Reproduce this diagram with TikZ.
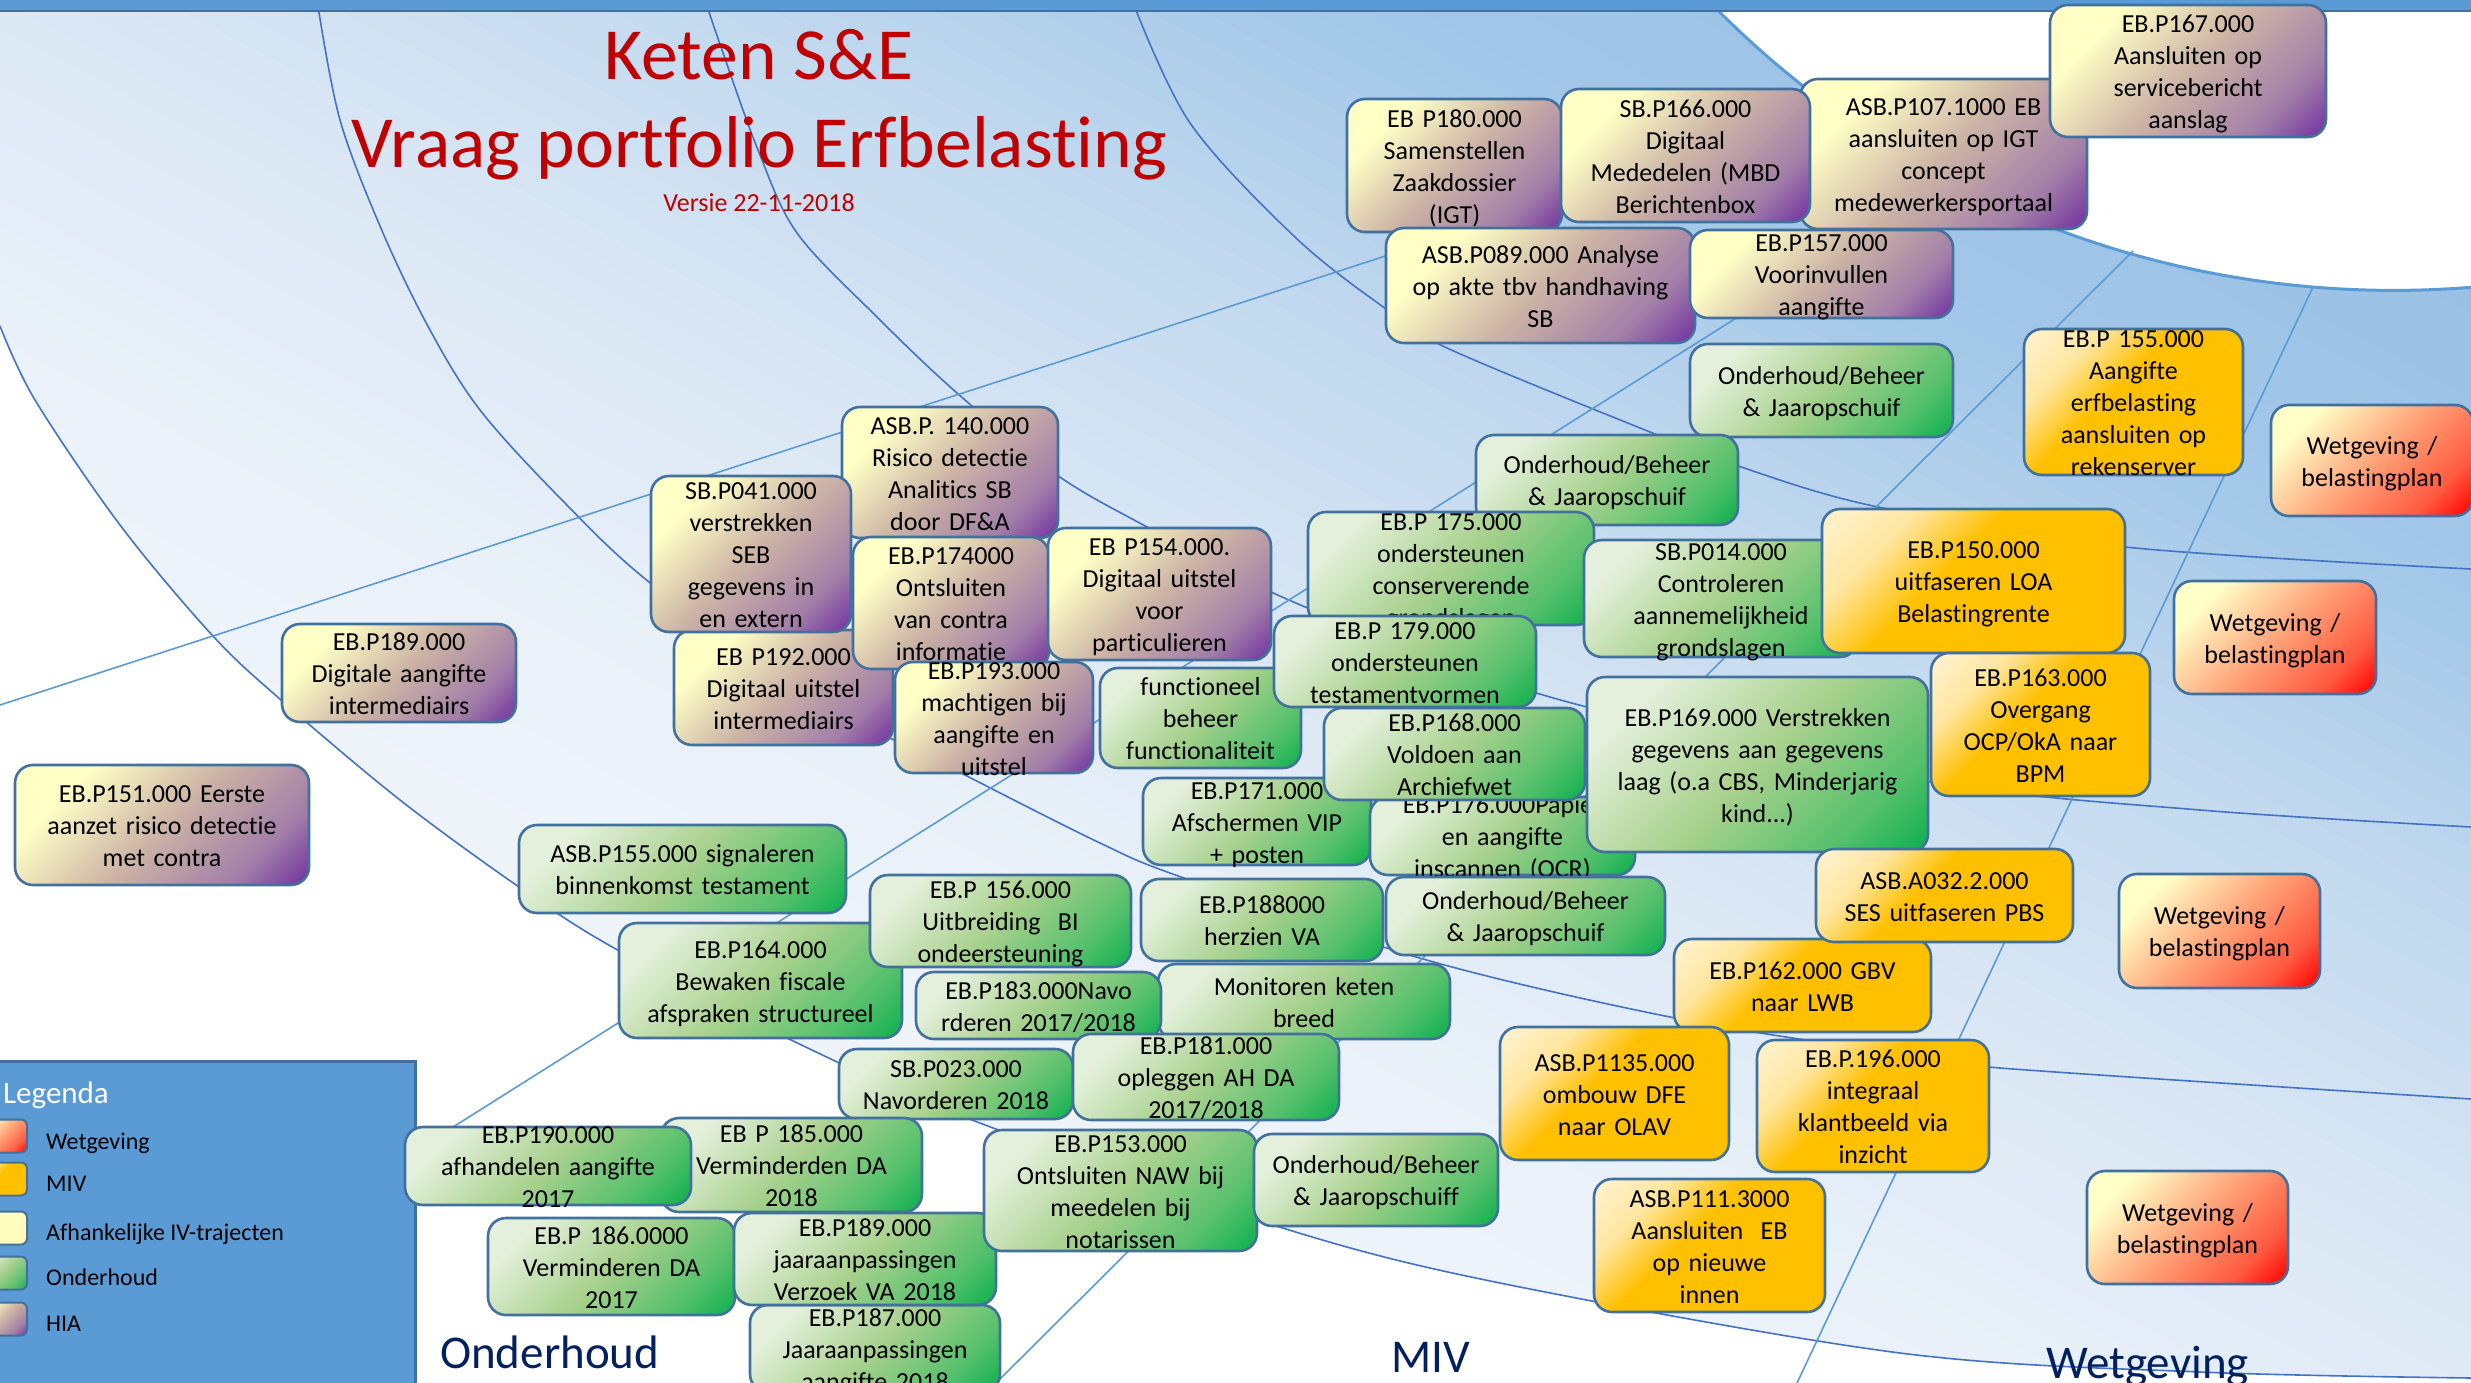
\documentclass[tikz,border=0pt]{standalone}
\usepackage{fontspec}
\setmainfont{Carlito}[Ligatures=NoCommon]
\definecolor{bordc}{HTML}{41719C}
\definecolor{arcc}{HTML}{4472C4}
\definecolor{radc}{HTML}{5B9BD5}
\definecolor{barc}{HTML}{5B9BD5}
\definecolor{titlered}{HTML}{C00000}
\definecolor{navy}{HTML}{002060}
\definecolor{bgA}{HTML}{8DB9E2}
\definecolor{bgB}{HTML}{A4C8E8}
\definecolor{bgC}{HTML}{C0D8EE}
\definecolor{bgD}{HTML}{DCE8F5}
\definecolor{bgE}{HTML}{EAF1F9}
\definecolor{bgF}{HTML}{F4F8FC}
\definecolor{hiaA}{HTML}{FFFFC6}
\definecolor{hiaB}{HTML}{CDB5A6}
\definecolor{hiaC}{HTML}{A27EA8}
\definecolor{hiaD}{HTML}{7232A0}
\definecolor{ondA}{HTML}{E4F0DC}
\definecolor{ondB}{HTML}{A8D18D}
\definecolor{ondC}{HTML}{55C06C}
\definecolor{ondD}{HTML}{0DB04E}
\definecolor{mivA}{HTML}{FFF0C8}
\definecolor{mivB}{HTML}{FFE6A0}
\definecolor{mivC}{HTML}{FFC000}
\definecolor{wetA}{HTML}{FFFFC8}
\definecolor{wetB}{HTML}{FFA57A}
\definecolor{wetC}{HTML}{FF5A40}
\definecolor{wetD}{HTML}{FF0000}
\definecolor{afhA}{HTML}{FFFFC4}
\definecolor{afhB}{HTML}{FFF6B0}
\pgfdeclarehorizontalshading{hiash}{100bp}{color(0bp)=(hiaA); color(28bp)=(hiaA); color(50bp)=(hiaB); color(72bp)=(hiaC); color(85bp)=(hiaD); color(100bp)=(hiaD)}
\pgfdeclarehorizontalshading{ondsh}{100bp}{color(0bp)=(ondA); color(25bp)=(ondA); color(50bp)=(ondB); color(72bp)=(ondC); color(85bp)=(ondD); color(100bp)=(ondD)}
\pgfdeclarehorizontalshading{mivsh}{100bp}{color(0bp)=(mivA); color(18bp)=(mivA); color(30bp)=(mivB); color(44bp)=(mivC); color(100bp)=(mivC)}
\pgfdeclarehorizontalshading{wetsh}{100bp}{color(0bp)=(wetA); color(26bp)=(wetA); color(50bp)=(wetB); color(72bp)=(wetC); color(85bp)=(wetD); color(100bp)=(wetD)}
\pgfdeclarehorizontalshading{afhsh}{100bp}{color(0bp)=(afhA); color(40bp)=(afhA); color(100bp)=(afhB)}
\newcommand{\bxfont}{\fontsize{26}{32}\selectfont}
\newcommand{\bx}[7]{%
  \node[#1, minimum width={#5-#3}, minimum height={#6-#4}] (#2) at ({(#3+#5)/2},{(#4+#6)/2}) {};
  \node[boxtext] (#2t) at ([yshift=-3.5pt]#2.center) {#7};
}
\tikzset{
  box/.style={rounded corners=18pt, draw=bordc, line width=2.6pt, inner sep=0pt, outer sep=0pt, shade, shading angle=-45},
  hia/.style={box, shading=hiash, shading angle=-45},
  ond/.style={box, shading=ondsh, shading angle=-45},
  miv/.style={box, shading=mivsh, shading angle=-45},
  wet/.style={box, shading=wetsh, shading angle=-45},
  afh/.style={box, shading=afhsh, shading angle=-45},
  boxtext/.style={text width=600pt, align=center, inner sep=0pt, font=\bxfont, text=black,
    execute at begin node=\strut, execute at end node=\strut},
  arcline/.style={draw=arcc, line width=1.6pt},
  radline/.style={draw=radc, line width=1.6pt},
  swatch/.style={rounded corners=6pt, line width=2pt, minimum width=50, minimum height=33},
  legtext/.style={anchor=base west, inner sep=0pt, font=\fontsize{24}{28}\selectfont, text=black},
  seclabel/.style={anchor=base west, inner sep=0pt, font=\fontsize{47}{56}\selectfont, text=navy},
  titlefont/.style={anchor=base, inner sep=0pt, font=\fontsize{73.5}{87}\selectfont, text=titlered},
}
\begin{document}
\begin{tikzpicture}[x=1pt,y=-1pt]
\useasboundingbox (0,0) rectangle (2471,1383);
\fill[white] (0,0) rectangle (2471,1383);
% ---------- gradient sector region ----------
\begin{scope}
\clip plot[smooth,tension=0.55] coordinates {(0,326) (35,400) (120,525) (212,635) (281,700) (400,800) (519,887) (614,948) (789,1039) (972,1120) (1276,1226) (1500,1283) (1900,1353) (2200,1372) (2471,1378)}
  -- (2490,1378) -- (2490,-20) -- (-20,-20) -- (-20,326) -- cycle;
\foreach \pa/\pb/\ca/\cb in {-1250/-600/bgA/bgB, -600/-350/bgB/bgC, -350/0/bgC/bgD, 0/300/bgD/bgE, 300/800/bgE/bgF}{
  \pgfmathtruncatemacro{\nn}{(\pb-\pa)/25}
  \foreach \i in {1,...,\nn}{
    \pgfmathsetmacro{\pp}{\pa+(\i-1)*25}
    \pgfmathsetmacro{\pq}{\pp+27}
    \pgfmathtruncatemacro{\fr}{100*(\i-0.5)/\nn}
    \fill[\cb!\fr!\ca] ({-0.466*\pp-265.5},{0.885*\pp-139.8}) -- ({-0.466*\pp+2743.5},{0.885*\pp+1444.6})
      -- ({-0.466*\pq+2743.5},{0.885*\pq+1444.6}) -- ({-0.466*\pq-265.5},{0.885*\pq-139.8}) -- cycle;
  }
}
\end{scope}
% outer boundary arc
\draw[arcline] plot[smooth,tension=0.55] coordinates {(0,326) (35,400) (120,525) (212,635) (281,700) (400,800) (519,887) (614,948) (789,1039) (972,1120) (1276,1226) (1500,1283) (1900,1353) (2200,1372) (2471,1378)};
% inner white circle
\fill[white] (2393.5,-664.6) circle (955pt);
\draw[draw=radc, line width=3pt] (2393.5,-664.6) circle (955pt);
% arcs
\draw[arcline] plot[smooth,tension=0.55] coordinates {(317,0) (340,120) (383,233) (430,330) (480,410) (560,498) (649,582) (800,690) (961,773) (1100,843) (1181,877) (1423,959) (1675,1018) (1900,1054) (2000,1068) (2471,1099)};
\draw[arcline] plot[smooth,tension=0.55] coordinates {(705,0) (722,50) (758,150) (797,233) (877,317) (957,393) (1057,475) (1147,527) (1271,592) (1420,652) (1587,707) (1931,782) (2200,810) (2471,827)};
\draw[arcline] plot[smooth,tension=0.55] coordinates {(1132,0) (1190,123) (1296,238) (1386,309) (1447,348) (1650,432) (1741,467) (1878,507) (2125,547) (2471,569)};
% radial lines
\draw[radline] (0,705) -- (1836,110);
\draw[radline] (47,1383) -- (1952,182);
\draw[radline] (996,1383) -- (2133,251);
\draw[radline] (1797,1383) -- (2313,287);
% top bar
\fill[barc] (0,-5) rectangle (2471,11);
\draw[bordc, line width=2pt] (0,11) -- (2471,11);
% titles
\node[titlefont] (title1) at (759,80) {Keten S\&E};
\node[titlefont] (title2) at (759,168) {Vraag portfolio Erfbelasting};
\node[anchor=base, inner sep=0pt, font=\fontsize{26}{32}\selectfont, text=titlered] (versie) at (759,212) {Versie 22-11-2018};
% ---------- legend ----------
\path[fill=barc, draw=bordc, line width=3pt] (-10,1061) rectangle (415,1400);
\node[anchor=base west, inner sep=0pt, font=\fontsize{31}{36}\selectfont, text=white] (legtitle) at (3,1103) {Legenda};
\node[wet, swatch] (sw1) at (2,1136) {};
\node[miv, swatch] (sw2) at (2,1179) {};
\node[afh, swatch] (sw3) at (2,1228) {};
\node[ond, swatch] (sw4) at (2,1273) {};
\node[hia, swatch] (sw5) at (2,1319) {};
\node[legtext] (lt1) at (46,1149) {Wetgeving};
\node[legtext] (lt2) at (46,1191) {MIV};
\node[legtext] (lt3) at (46,1240) {Afhankelijke IV-trajecten};
\node[legtext] (lt4) at (46,1285) {Onderhoud};
\node[legtext] (lt5) at (46,1331) {HIA};
% ---------- boxes ----------
\bx{hia}{b4}{1347}{99}{1562}{232}{EB P180.000\\Samenstellen\\Zaakdossier\\(IGT)}
\bx{hia}{b2}{1800}{79}{2087}{229}{ASB.P107.1000 EB\\aansluiten op IGT\\concept\\medewerkersportaal}
\bx{hia}{b3}{1561}{89}{1810}{222}{SB.P166.000\\Digitaal\\Mededelen (MBD\\Berichtenbox}
\bx{hia}{b1}{2050}{5}{2326}{137}{EB.P167.000\\Aansluiten op\\servicebericht\\aanslag}
\bx{hia}{b5}{1386}{228}{1695}{343}{ASB.P089.000 Analyse\\op akte tbv handhaving\\SB}
\bx{hia}{b6}{1690}{230}{1953}{318}{EB.P157.000\\Voorinvullen\\aangifte}
\bx{ond}{b15}{1690}{344}{1953}{437}{Onderhoud/Beheer\\\& Jaaropschuif}
\bx{miv}{b41}{2024}{329}{2243}{475}{EB.P 155.000\\Aangifte\\erfbelasting\\aansluiten op\\rekenserver}
\bx{wet}{b49}{2271}{405}{2473}{516}{Wetgeving /\\belastingplan}
\bx{hia}{b7}{842}{407}{1058}{538}{ASB.P. 140.000\\Risico detectie\\Analitics SB\\door DF\&A}
\bx{hia}{b12}{674}{630}{893}{745}{EB P192.000\\Digitaal uitstel\\intermediairs}
\bx{hia}{b8}{651}{476}{851}{632}{SB.P041.000\\verstrekken\\SEB\\gegevens in\\en extern}
\bx{hia}{b9}{853}{537}{1049}{669}{EB.P174000\\Ontsluiten\\van contra\\informatie}
\bx{hia}{b13}{895}{662}{1093}{773}{EB.P193.000\\machtigen bij\\aangifte en\\uitstel}
\bx{hia}{b10}{1048}{528}{1271}{660}{EB P154.000.\\Digitaal uitstel\\voor\\particulieren}
\bx{hia}{b11}{282}{624}{516}{722}{EB.P189.000\\Digitale aangifte\\intermediairs}
\bx{hia}{b14}{15}{765}{309}{885}{EB.P151.000 Eerste\\aanzet risico detectie\\met contra}
\bx{ond}{b16}{1476}{435}{1738}{525}{Onderhoud/Beheer\\\& Jaaropschuif}
\bx{ond}{b17}{1308}{512}{1594}{625}{EB.P 175.000\\ondersteunen\\conserverende\\grondslagen}
\bx{ond}{b18}{1584}{540}{1858}{657}{SB.P014.000\\Controleren\\aannemelijkheid\\grondslagen}
\bx{miv}{b42}{1822}{509}{2125}{653}{EB.P150.000\\uitfaseren LOA\\Belastingrente}
\bx{ond}{b20}{1100}{668}{1301}{768}{functioneel\\beheer\\functionaliteit}
\bx{ond}{b19}{1274}{616}{1536}{707}{EB.P 179.000\\ondersteunen\\testamentvormen}
\bx{ond}{b23}{1143}{778}{1371}{865}{EB.P171.000\\Afschermen VIP\\+ posten}
\bx{ond}{b24}{1370}{797}{1635}{875}{EB.P176.000Papier\\en aangifte\\inscannen (OCR)}
\bx{ond}{b21}{1324}{708}{1585}{800}{EB.P168.000\\Voldoen aan\\Archiefwet}
\bx{ond}{b22}{1587}{677}{1928}{852}{EB.P169.000 Verstrekken\\gegevens aan gegevens\\laag (o.a CBS, Minderjarig\\kind...)}
\bx{miv}{b43}{1931}{653}{2150}{796}{EB.P163.000\\Overgang\\OCP/OkA naar\\BPM}
\bx{wet}{b50}{2174}{581}{2376}{694}{Wetgeving /\\belastingplan}
\bx{ond}{b25}{519}{825}{846}{913}{ASB.P155.000 signaleren\\binnenkomst testament}
\bx{ond}{b27}{619}{923}{902}{1038}{EB.P164.000\\Bewaken fiscale\\afspraken structureel}
\bx{ond}{b26}{870}{875}{1131}{967}{EB.P 156.000\\Uitbreiding~~BI\\ondeersteuning}
\bx{ond}{b29}{1141}{879}{1383}{961}{EB.P188000\\herzien VA}
\bx{ond}{b30}{1386}{877}{1665}{955}{Onderhoud/Beheer\\\& Jaaropschuif}
\bx{ond}{b31}{1158}{964}{1450}{1039}{Monitoren keten\\breed}
\bx{ond}{b28}{916}{972}{1161}{1039}{EB.P183.000Navo\\rderen 2017/2018}
\bx{ond}{b32}{839}{1049}{1073}{1119}{SB.P023.000\\Navorderen 2018}
\bx{ond}{b33}{1073}{1034}{1339}{1120}{EB.P181.000\\opleggen AH DA\\2017/2018}
\bx{ond}{b35}{661}{1118}{922}{1212}{EB P 185.000\\Verminderden DA\\2018}
\bx{ond}{b34}{405}{1127}{691}{1205}{EB.P190.000\\afhandelen aangifte\\2017}
\bx{ond}{b36}{488}{1218}{735}{1315}{EB.P 186.0000\\Verminderen DA\\2017}
\bx{ond}{b38}{750}{1305}{1000}{1392}{EB.P187.000\\Jaaraanpassingen\\aangifte 2018}
\bx{ond}{b37}{734}{1213}{996}{1305}{EB.P189.000\\jaaraanpassingen\\Verzoek VA 2018}
\bx{ond}{b39}{984}{1130}{1257}{1251}{EB.P153.000\\Ontsluiten NAW bij\\meedelen bij\\notarissen}
\bx{ond}{b40}{1254}{1134}{1498}{1226}{Onderhoud/Beheer\\\& Jaaropschuiff}
\bx{miv}{b45}{1674}{939}{1931}{1032}{EB.P162.000 GBV\\naar LWB}
\bx{miv}{b44}{1816}{849}{2073}{942}{ASB.A032.2.000\\SES uitfaseren PBS}
\bx{miv}{b46}{1500}{1027}{1729}{1160}{ASB.P1135.000\\ombouw DFE\\naar OLAV}
\bx{miv}{b47}{1757}{1040}{1989}{1172}{EB.P.196.000\\integraal\\klantbeeld via\\inzicht}
\bx{miv}{b48}{1594}{1179}{1825}{1312}{ASB.P111.3000\\Aansluiten~~EB\\op nieuwe\\innen}
\bx{wet}{b51}{2119}{874}{2320}{988}{Wetgeving /\\belastingplan}
\bx{wet}{b52}{2087}{1171}{2288}{1284}{Wetgeving /\\belastingplan}
% ---------- section labels ----------
\node[seclabel] (lblond) at (440,1368) {Onderhoud};
\node[seclabel] (lblmiv) at (1391,1372) {MIV};
\node[seclabel] (lblwet) at (2046,1378) {Wetgeving};
\end{tikzpicture}
\end{document}
